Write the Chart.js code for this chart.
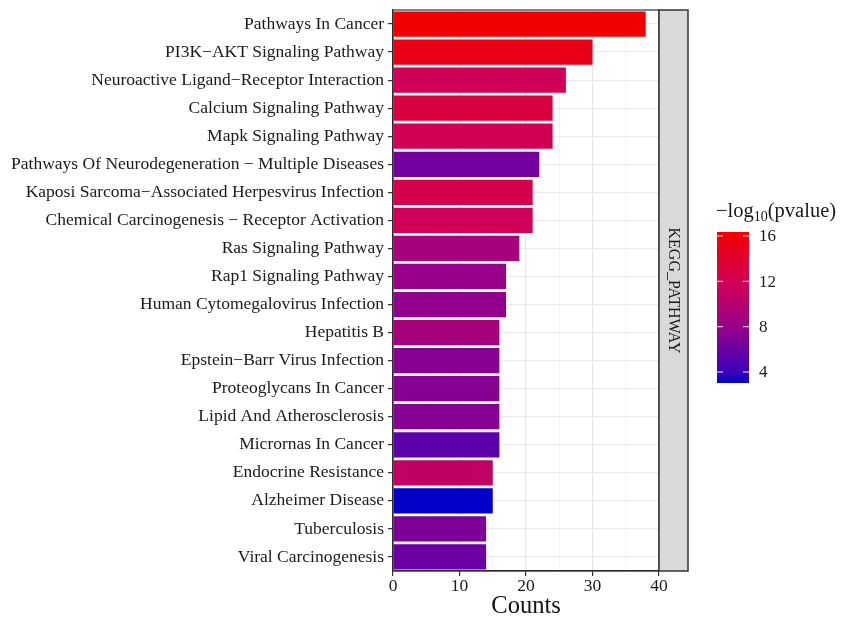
<!DOCTYPE html>
<html>
<head>
<meta charset="utf-8">
<script src="https://cdn.jsdelivr.net/npm/chart.js@4.4.1/dist/chart.umd.min.js"></script>
<style>
  html, body { margin: 0; padding: 0; background: #ffffff; }
  #wrap { width: 841px; height: 621px; position: relative; }
</style>
</head>
<body>
<div id="wrap"><canvas id="keggChart" width="841" height="621"></canvas></div>
<script>
// ====================================================
// Data
// ====================================================
const pathways = [
    'Pathways In Cancer',
    'PI3K\u2212AKT Signaling Pathway',
    'Neuroactive Ligand\u2212Receptor Interaction',
    'Calcium Signaling Pathway',
    'Mapk Signaling Pathway',
    'Pathways Of Neurodegeneration \u2212 Multiple Diseases',
    'Kaposi Sarcoma\u2212Associated Herpesvirus Infection',
    'Chemical Carcinogenesis \u2212 Receptor Activation',
    'Ras Signaling Pathway',
    'Rap1 Signaling Pathway',
    'Human Cytomegalovirus Infection',
    'Hepatitis B',
    'Epstein\u2212Barr Virus Infection',
    'Proteoglycans In Cancer',
    'Lipid And Atherosclerosis',
    'Micrornas In Cancer',
    'Endocrine Resistance',
    'Alzheimer Disease',
    'Tuberculosis',
    'Viral Carcinogenesis'
];
const counts = [38, 30, 26, 24, 24, 22, 21, 21, 19, 17, 17, 16, 16, 16, 16, 16, 15, 15, 14, 14];
const negLogP = [16.35, 15.2, 11.8, 13.0, 12.0, 6.4, 12.3, 11.8, 9.0, 8.0,
                 7.8, 9.0, 7.3, 7.3, 7.2, 5.4, 10.8, 3.03, 6.8, 6.0];
const countTicks = [0, 10, 20, 30, 40];
const legendTicks = [4, 8, 12, 16];
const facetLabel = 'KEGG_PATHWAY';

// ====================================================
// Colour scale (blue -> red), stops sampled from the legend bar
// ====================================================
const colourStops = [
    [3.0,  [0, 0, 200]],
    [4.0,  [60, 0, 185]],
    [8.0,  [152, 0, 138]],
    [12.0, [210, 0, 82]],
    [16.35, [240, 0, 0]]
];

function colorFor(v) {
    if (v <= colourStops[0][0]) return 'rgb(' + colourStops[0][1].join(',') + ')';
    for (let i = 1; i < colourStops.length; i++) {
        const [v1, c1] = colourStops[i];
        const [v0, c0] = colourStops[i - 1];
        if (v <= v1) {
            const t = (v - v0) / (v1 - v0);
            const c = c0.map((x, k) => Math.round(x + (c1[k] - x) * t));
            return 'rgb(' + c.join(',') + ')';
        }
    }
    return 'rgb(' + colourStops[colourStops.length - 1][1].join(',') + ')';
}

const SERIF = '"Liberation Serif", "DejaVu Serif", serif';
const pMin = Math.min(...negLogP);
const pMax = Math.max(...negLogP);

// ====================================================
// Plugin: panel border, facet strip and colour-bar legend
// ====================================================
const decorPlugin = {
    id: 'decor',
    afterDraw(chart) {
        const ctx = chart.ctx;
        const a = chart.chartArea;
        ctx.save();

        // panel border
        ctx.strokeStyle = '#333333';
        ctx.lineWidth = 1.2;
        ctx.strokeRect(a.left, a.top, a.right - a.left, a.bottom - a.top);

        // facet strip on the right
        const sx = a.right, sw = 29;
        ctx.fillStyle = '#d9d9d9';
        ctx.fillRect(sx, a.top, sw, a.bottom - a.top);
        ctx.strokeStyle = '#333333';
        ctx.lineWidth = 1.5;
        ctx.strokeRect(sx, a.top, sw, a.bottom - a.top);
        ctx.save();
        ctx.translate(sx + sw / 2, (a.top + a.bottom) / 2);
        ctx.rotate(Math.PI / 2);
        ctx.fillStyle = '#1a1a1a';
        ctx.font = '16px ' + SERIF;
        ctx.textAlign = 'center';
        ctx.textBaseline = 'middle';
        ctx.fillText(facetLabel, 0, 0);
        ctx.restore();

        // legend title: -log10(pvalue)
        const tx = 716, ty = 217;
        ctx.fillStyle = '#1a1a1a';
        ctx.textBaseline = 'alphabetic';
        ctx.textAlign = 'left';
        ctx.font = '20.5px ' + SERIF;
        ctx.fillText('\u2212log', tx, ty);
        let w = ctx.measureText('\u2212log').width;
        ctx.font = '14px ' + SERIF;
        ctx.fillText('10', tx + w, ty + 4);
        w += ctx.measureText('10').width;
        ctx.font = '20.5px ' + SERIF;
        ctx.fillText('(pvalue)', tx + w, ty);

        // colour bar
        const bx = 717, bw = 32, bTop = 232, bBot = 383;
        const grad = ctx.createLinearGradient(0, bBot, 0, bTop);
        for (let i = 0; i <= 40; i++) {
            const v = pMin + (pMax - pMin) * i / 40;
            grad.addColorStop(i / 40, colorFor(v));
        }
        ctx.fillStyle = grad;
        ctx.fillRect(bx, bTop, bw, bBot - bTop);

        ctx.font = '17px ' + SERIF;
        ctx.textBaseline = 'middle';
        legendTicks.forEach(v => {
            const y = bBot - (v - pMin) / (pMax - pMin) * (bBot - bTop);
            ctx.strokeStyle = 'rgba(255,255,255,0.9)';
            ctx.lineWidth = 1;
            ctx.beginPath();
            ctx.moveTo(bx, y); ctx.lineTo(bx + 6, y);
            ctx.moveTo(bx + bw - 6, y); ctx.lineTo(bx + bw, y);
            ctx.stroke();
            ctx.fillStyle = '#1a1a1a';
            ctx.fillText(String(v), bx + bw + 10, y + 1);
        });

        ctx.restore();
    }
};

// ====================================================
// Chart
// ====================================================
function initializeChart() {
    const canvas = document.getElementById('keggChart');

    new Chart(canvas, {
        type: 'bar',
        data: {
            labels: pathways,
            datasets: [{
                label: 'Counts',
                data: counts,
                backgroundColor: negLogP.map(colorFor),
                borderWidth: 0,
                barPercentage: 0.9,
                categoryPercentage: 1.0
            }]
        },
        options: {
            indexAxis: 'y',
            responsive: false,
            animation: false,
            layout: {
                padding: { left: 0, right: 182, top: 10, bottom: 0 }
            },
            plugins: {
                legend: { display: false },
                tooltip: { enabled: false }
            },
            scales: {
                x: {
                    type: 'linear',
                    min: countTicks[0],
                    max: countTicks[countTicks.length - 1],
                    afterBuildTicks(scale) {
                        const t = [];
                        for (let v = countTicks[0]; v <= countTicks[countTicks.length - 1]; v += 5) t.push({ value: v });
                        scale.ticks = t;
                    },
                    afterFit(scale) {
                        scale.height = 50;
                        scale.paddingLeft = 0;
                        scale.paddingRight = 0;
                    },
                    ticks: {
                        autoSkip: false,
                        maxRotation: 0,
                        padding: 0,
                        color: '#1a1a1a',
                        font: { family: SERIF, size: 17.5 },
                        callback: v => countTicks.includes(v) ? String(v) : ''
                    },
                    grid: {
                        color: c => (c.tick && c.tick.value % 10 === 0) ? '#e6e6e6' : '#f2f2f2',
                        lineWidth: c => (c.tick && c.tick.value % 10 === 0) ? 1.2 : 0.8,
                        tickColor: c => (c.tick && c.tick.value % 10 === 0) ? '#333333' : 'rgba(0,0,0,0)',
                        tickLength: 5,
                        drawTicks: true
                    },
                    border: { display: true, color: '#222222', width: 1.2 },
                    title: {
                        display: true,
                        text: 'Counts',
                        color: '#111111',
                        font: { family: SERIF, size: 24.5 },
                        padding: { top: 0, bottom: 0 }
                    }
                },
                y: {
                    afterFit(scale) {
                        scale.width = 393;
                        scale.paddingTop = 0;
                        scale.paddingBottom = 0;
                    },
                    ticks: {
                        autoSkip: false,
                        padding: 4,
                        color: '#1a1a1a',
                        font: { family: SERIF, size: 17.5 }
                    },
                    grid: {
                        offset: false,
                        color: '#ebebeb',
                        lineWidth: 1.2,
                        tickColor: '#333333',
                        tickLength: 5,
                        drawTicks: true
                    },
                    border: { display: true, color: '#222222', width: 1.2 }
                }
            }
        },
        plugins: [decorPlugin]
    });
}

initializeChart();
</script>
</body>
</html>
